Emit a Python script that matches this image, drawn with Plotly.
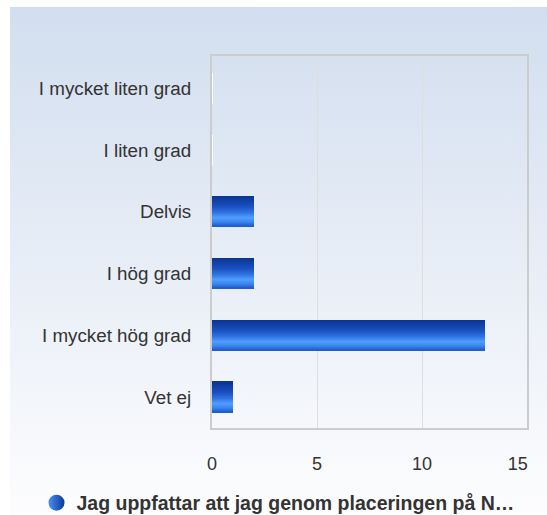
import base64
import plotly.graph_objects as go

categories = ["I mycket liten grad", "I liten grad", "Delvis", "I hög grad",
              "I mycket hög grad", "Vet ej"]
values = [0, 0, 2, 2, 13, 1]
series_name = "Jag uppfattar att jag genom placeringen på N…"
x_ticks = [0, 5, 10, 15]
x_tick_labels = ["0", "5", "10", "15\u2007\u2008\u2009"]

W, H = 547, 515
L, R, T, B = 212, 20, 56, 87
pw, ph = W - L - R, H - T - B

FONT = "Liberation Sans, Arial, sans-serif"
TXT = "#333333"

# vertical gradient stops for bar fill (top -> bottom)
stops = [(0.0, (10, 52, 145)), (0.35, (26, 80, 192)), (0.55, (48, 114, 226)),
         (0.72, (78, 158, 255)), (0.87, (58, 132, 238)), (1.0, (28, 90, 204))]


def grad(t):
    for (a, ca), (b, cb) in zip(stops, stops[1:]):
        if a <= t <= b:
            f = (t - a) / (b - a)
            c = [round(ca[i] + (cb[i] - ca[i]) * f) for i in range(3)]
            return "rgb(%d,%d,%d)" % tuple(c)
    return "rgb(%d,%d,%d)" % stops[-1][1]


fig = go.Figure()
bar_w = 0.49
n = 30
for i in range(n):
    fig.add_trace(go.Bar(
        y=categories, x=values, orientation="h",
        width=bar_w / n + 0.003, offset=-bar_w / 2 + i * bar_w / n,
        marker=dict(color=grad((i + 0.5) / n), line=dict(width=0)),
        showlegend=False, hoverinfo="skip",
    ))

# zero-value bars show as a thin white stroke at the axis
zero_cats = [c for c, v in zip(categories, values) if v == 0]
zero_vals = [v for v in values if v == 0]
fig.add_trace(go.Scatter(
    y=zero_cats, x=zero_vals, mode="markers",
    marker=dict(symbol="line-ns-open", size=22, color="white",
                line=dict(color="white", width=2)),
    showlegend=False, hoverinfo="skip", cliponaxis=False,
))

# legend entry
fig.add_trace(go.Scatter(
    x=[None], y=[None], mode="markers", name=series_name,
    marker=dict(symbol="circle", size=18, color="#4a90f0",
                gradient=dict(type="horizontal", color="#0a3a9a"),
                line=dict(width=0)),
))

svg = ('<svg xmlns="http://www.w3.org/2000/svg" width="100" height="100" '
       'viewBox="0 0 100 100" preserveAspectRatio="none">'
       '<defs><linearGradient id="g" x1="0" y1="0" x2="0" y2="1">'
       '<stop offset="0" stop-color="#d2deef"/>'
       '<stop offset="1" stop-color="#fdfdfe"/>'
       '</linearGradient></defs>'
       '<rect width="100" height="100" fill="url(#g)"/></svg>')
src = "data:image/svg+xml;base64," + base64.b64encode(svg.encode()).decode()

bx0, by0 = 10, 7
fig.add_layout_image(dict(
    source=src, xref="paper", yref="paper",
    x=(bx0 - L) / pw, y=1 + (T - by0) / ph,
    sizex=(W - bx0) / pw, sizey=(H - by0) / ph,
    xanchor="left", yanchor="top", sizing="stretch", layer="below",
))

fig.update_layout(
    width=W, height=H,
    margin=dict(l=L, r=R, t=T, b=B, autoexpand=False),
    paper_bgcolor="white", plot_bgcolor="rgba(0,0,0,0)",
    barmode="overlay", bargap=0,
    font=dict(family=FONT, size=18, color=TXT),
    showlegend=True,
    legend=dict(orientation="h", x=(278 - L) / pw, xanchor="center",
                xref="paper",
                yref="container", y=1 - 503 / H, yanchor="middle",
                font=dict(family=FONT, size=19.5, color=TXT, weight="bold"),
                bgcolor="rgba(0,0,0,0)", itemsizing="trace"),
    xaxis=dict(range=[0, 15], tickvals=x_ticks, ticktext=x_tick_labels,
               showgrid=True, automargin=False, ticklabeloverflow="allow",
               gridcolor="#dedede", gridwidth=1, zeroline=False,
               showline=True, linecolor="#cccccc", linewidth=2, mirror=True,
               ticks="", ticklabelstandoff=18,
               tickfont=dict(family=FONT, size=18, color=TXT), fixedrange=True),
    yaxis=dict(categoryorder="array", categoryarray=categories,
               autorange="reversed", showgrid=False, zeroline=False,
               automargin=False, ticklabeloverflow="allow",
               showline=True, linecolor="#cccccc", linewidth=2, mirror=True,
               ticks="", ticklabelstandoff=15,
               tickfont=dict(family=FONT, size=18.8, color=TXT), fixedrange=True),
)

fig.write_html("out.html", config={"displayModeBar": False},
               post_script="document.body.style.margin='0';"
                           "document.body.style.overflow='hidden';")
